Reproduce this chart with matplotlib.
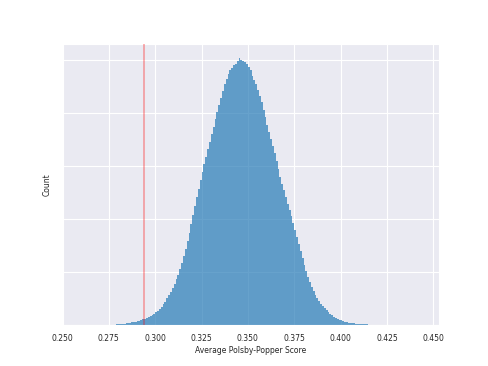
import matplotlib
matplotlib.use("Agg")
import matplotlib.pyplot as plt
import numpy as np
import seaborn as sns

# histogram: bin left edges (width 0.001) and bar heights
bin_start = 0.275
bin_width = 0.001
counts = [
    0.004, 0.005, 0.007, 0.009, 0.012, 0.015, 0.018, 0.022, 0.026, 0.031,
    0.036, 0.042, 0.049, 0.056, 0.064, 0.073, 0.083, 0.094, 0.106, 0.120,
    0.135, 0.152, 0.171, 0.192, 0.216, 0.243, 0.272, 0.305, 0.345, 0.390,
    0.440, 0.500, 0.560, 0.620, 0.690, 0.770, 0.860, 0.950, 1.050, 1.170,
    1.300, 1.440, 1.580, 1.740, 1.900, 2.070, 2.240, 2.410, 2.570, 2.730,
    2.880, 3.030, 3.170, 3.310, 3.460, 3.600, 3.740, 3.880, 4.020, 4.150,
    4.280, 4.420, 4.550, 4.630, 4.740, 4.800, 4.840, 4.900, 4.930, 4.980,
    5.030, 5.000, 4.980, 4.960, 4.920, 4.860, 4.800, 4.700, 4.620, 4.540,
    4.440, 4.320, 4.200, 4.060, 3.920, 3.770, 3.640, 3.510, 3.380, 3.240,
    3.090, 2.940, 2.790, 2.660, 2.540, 2.420, 2.290, 2.170, 2.050, 1.920,
    1.790, 1.660, 1.530, 1.400, 1.270, 1.140, 1.020, 0.910, 0.810, 0.720,
    0.640, 0.570, 0.510, 0.450, 0.400, 0.360, 0.320, 0.280, 0.240, 0.210,
    0.180, 0.155, 0.133, 0.115, 0.099, 0.085, 0.073, 0.063, 0.054, 0.047,
    0.041, 0.035, 0.030, 0.026, 0.022, 0.019, 0.016, 0.014, 0.012, 0.010,
    0.008, 0.007, 0.006, 0.005, 0.004, 0.003,
]
observed_score = 0.294
xticks = [0.250, 0.275, 0.300, 0.325, 0.350, 0.375, 0.400, 0.425, 0.450]

sns.set_style("darkgrid")
plt.rcParams['font.family'] = ['DejaVu Sans']

fig, ax = plt.subplots(figsize=(4.88, 3.66), dpi=100)

edges = bin_start + bin_width * np.arange(len(counts))
ax.bar(edges, counts, width=bin_width, align='edge',
       color='#1f77b4', alpha=0.68, linewidth=0)

ax.axvline(observed_score, color='red', alpha=0.35, linewidth=1.2, zorder=3)

ax.set_xlim(0.2497, 0.4532)
ax.set_ylim(0, 5.30)
ax.set_xticks(xticks)
ax.set_xticklabels([f"{t:.3f}" for t in xticks], fontsize=5.5)
ax.set_yticks([0, 1, 2, 3, 4, 5])
ax.set_yticklabels([])
ax.tick_params(axis='x', pad=3)
ax.tick_params(axis='y', length=0)
ax.set_xlabel("Average Polsby-Popper Score", fontsize=5.5, labelpad=2)
ax.set_ylabel("Count", fontsize=5.5, labelpad=4)

fig.subplots_adjust(left=0.127, right=0.90, bottom=0.112, top=0.880)
fig.savefig("out.png", dpi=100)
